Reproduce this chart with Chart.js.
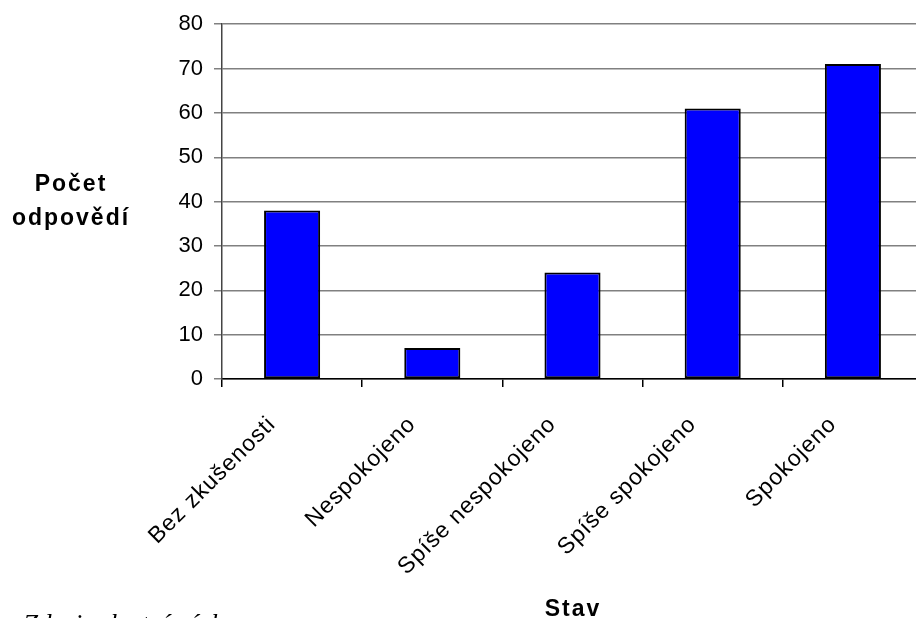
<!DOCTYPE html>
<html>
<head>
<meta charset="utf-8">
<script src="https://cdn.jsdelivr.net/npm/chart.js@4"></script>
<style>
    html, body { margin: 0; padding: 0; overflow: hidden; background: #fff; }
    #wrap { position: relative; width: 916px; height: 618px; overflow: hidden; }
    #box { position: absolute; left: 0; top: 0; width: 923px; height: 640px; }
    .ytitle {
        position: absolute; left: 0; top: 166px; width: 142px;
        font: bold 23px "Liberation Sans", Arial, sans-serif;
        letter-spacing: 2px; line-height: 34px; text-align: center; color: #000;
    }
    .xtitle {
        position: absolute; left: 473px; top: 597px; width: 200px;
        font: bold 23px "Liberation Sans", Arial, sans-serif;
        letter-spacing: 2px; line-height: 23px; text-align: center; color: #000;
    }
    .source {
        position: absolute; left: 23px; top: 611px;
        font: italic 27px "Liberation Serif", "Times New Roman", serif;
        line-height: 27px; color: #000; white-space: nowrap;
    }
</style>
</head>
<body>
<div id="wrap">
    <div id="box"><canvas id="chart"></canvas></div>
    <div class="ytitle">Počet<br>odpovědí</div>
    <div class="xtitle">Stav</div>
    <div class="source">Zdroj: vlastní výzkum</div>
</div>
<script>
const categories = ["Bez zkušenosti", "Nespokojeno", "Spíše nespokojeno", "Spíše spokojeno", "Spokojeno"];
const counts = [38, 7, 24, 61, 71];
const yTicks = [0, 10, 20, 30, 40, 50, 60, 70, 80];

// x labels are drawn after the bars (ticks.z = 1), so spacing is set only for them
const spacedLabels = {
    id: "spacedLabels",
    afterDatasetsDraw(chart) { chart.ctx.letterSpacing = "1px"; },
    afterDraw(chart) { chart.ctx.letterSpacing = "0px"; }
};

new Chart(document.getElementById("chart"), {
    type: "bar",
    data: {
        labels: categories,
        datasets: [{
            label: "Počet odpovědí",
            data: counts,
            backgroundColor: "#0000ff",
            borderColor: "#000000",
            borderWidth: 2,
            borderSkipped: false,
            categoryPercentage: 1,
            barPercentage: 0.4
        }]
    },
    plugins: [spacedLabels],
    options: {
        responsive: true,
        maintainAspectRatio: false,
        animation: false,
        layout: { padding: { top: 24, right: 0, bottom: 0, left: 0 } },
        plugins: { legend: { display: false }, tooltip: { enabled: false } },
        scales: {
            x: {
                grid: { display: true, drawOnChartArea: false, offset: true, tickLength: 8, color: "#000", lineWidth: 1.5 },
                border: { display: true, color: "#000", width: 1.5 },
                ticks: {
                    color: "#000", font: { family: "'Liberation Sans', Arial, sans-serif", size: 23 },
                    autoSkip: false, minRotation: 45, maxRotation: 45,
                    padding: 24, labelOffset: -20, z: 1
                },
                afterFit: scale => { scale.height = 261; }
            },
            y: {
                min: 0,
                max: 80,
                afterBuildTicks: scale => { scale.ticks = yTicks.map(v => ({ value: v })); },
                grid: { color: "#808080", lineWidth: 1.5, tickLength: 8 },
                border: { display: true, color: "#444", width: 1.5 },
                ticks: { color: "#000", font: { family: "'Liberation Sans', Arial, sans-serif", size: 22 }, padding: 11 },
                afterFit: scale => { scale.width = 222; }
            }
        }
    }
});
</script>
</body>
</html>
